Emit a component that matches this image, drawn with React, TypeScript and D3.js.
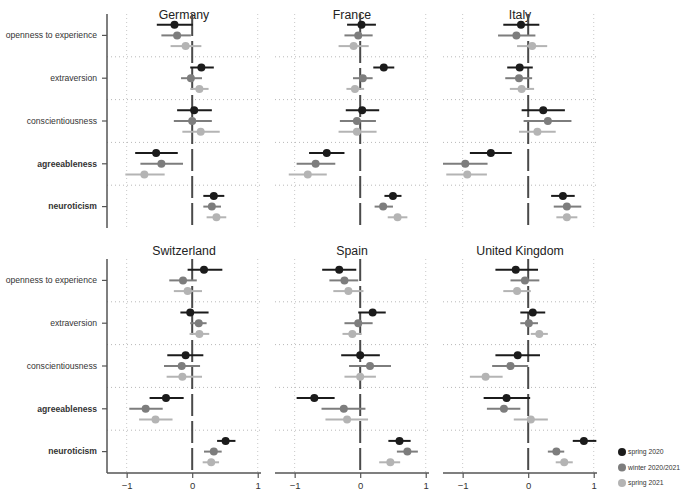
import React, { useEffect, useRef } from 'react';
import * as d3 from 'd3';

const traits = ['openness to experience', 'extraversion', 'conscientiousness', 'agreeableness', 'neuroticism'];
const boldTraits = ['agreeableness', 'neuroticism'];
const waves = ['spring 2020', 'winter 2020/2021', 'spring 2021'];
const waveColors = ['#1b1b1b', '#7d7d7d', '#b4b4b4'];
const countries = ['Germany', 'France', 'Italy', 'Switzerland', 'Spain', 'United Kingdom'];
const xTicks = [-1, 0, 1];

// per trait: [spring 2020, winter 2020/2021, spring 2021], each [estimate, lower, upper]
const germany = [
  [[-0.27, -0.54, 0.01], [-0.23, -0.47, -0.02], [-0.10, -0.33, 0.14]],
  [[0.14, -0.03, 0.33], [-0.02, -0.17, 0.15], [0.11, -0.03, 0.25]],
  [[0.03, -0.23, 0.30], [0.0, -0.28, 0.30], [0.13, -0.15, 0.42]],
  [[-0.55, -0.87, -0.22], [-0.47, -0.79, -0.14], [-0.73, -1.02, -0.42]],
  [[0.33, 0.17, 0.49], [0.30, 0.17, 0.44], [0.37, 0.22, 0.52]],
];
const france = [
  [[0.02, -0.20, 0.24], [-0.03, -0.24, 0.19], [-0.10, -0.33, 0.13]],
  [[0.36, 0.20, 0.52], [0.04, -0.11, 0.19], [-0.08, -0.21, 0.06]],
  [[0.03, -0.22, 0.29], [-0.05, -0.31, 0.24], [-0.05, -0.33, 0.25]],
  [[-0.51, -0.78, -0.24], [-0.68, -0.97, -0.38], [-0.80, -1.09, -0.51]],
  [[0.50, 0.37, 0.63], [0.35, 0.22, 0.50], [0.57, 0.42, 0.72]],
];
const italy = [
  [[-0.11, -0.38, 0.17], [-0.18, -0.46, 0.11], [0.06, -0.17, 0.29]],
  [[-0.13, -0.32, 0.07], [-0.14, -0.35, 0.06], [-0.10, -0.28, 0.09]],
  [[0.23, -0.10, 0.56], [0.30, -0.07, 0.66], [0.14, -0.14, 0.42]],
  [[-0.57, -0.89, -0.25], [-0.96, -1.30, -0.62], [-0.93, -1.25, -0.63]],
  [[0.53, 0.35, 0.71], [0.59, 0.39, 0.81], [0.59, 0.43, 0.75]],
];
const switzerland = [
  [[0.18, -0.07, 0.46], [-0.14, -0.35, 0.07], [-0.07, -0.28, 0.15]],
  [[-0.03, -0.18, 0.25], [0.10, -0.03, 0.22], [0.11, -0.04, 0.26]],
  [[-0.10, -0.38, 0.17], [-0.16, -0.43, 0.12], [-0.15, -0.39, 0.15]],
  [[-0.40, -0.65, -0.13], [-0.71, -0.96, -0.45], [-0.56, -0.81, -0.30]],
  [[0.51, 0.38, 0.66], [0.33, 0.18, 0.45], [0.29, 0.16, 0.41]],
];
const spain = [
  [[-0.32, -0.58, -0.06], [-0.24, -0.47, -0.03], [-0.18, -0.41, 0.05]],
  [[0.19, -0.03, 0.39], [-0.03, -0.24, 0.19], [-0.12, -0.27, 0.02]],
  [[0.0, -0.29, 0.30], [0.15, -0.17, 0.47], [0.0, -0.24, 0.24]],
  [[-0.70, -0.97, -0.39], [-0.25, -0.59, 0.08], [-0.20, -0.53, 0.12]],
  [[0.60, 0.43, 0.77], [0.72, 0.56, 0.88], [0.46, 0.29, 0.61]],
];
const uk = [
  [[-0.19, -0.50, 0.15], [-0.05, -0.27, 0.17], [-0.17, -0.38, 0.04]],
  [[0.07, -0.12, 0.26], [0.01, -0.12, 0.15], [0.17, 0.04, 0.30]],
  [[-0.16, -0.50, 0.18], [-0.27, -0.55, 0.0], [-0.65, -0.89, -0.39]],
  [[-0.33, -0.68, 0.03], [-0.37, -0.63, -0.12], [0.04, -0.22, 0.30]],
  [[0.85, 0.68, 1.04], [0.43, 0.30, 0.55], [0.55, 0.42, 0.68]],
];
const countryData = [germany, france, italy, switzerland, spain, uk];

const FONT = '"Liberation Sans", Arial, sans-serif';

function ForestPlot() {
  const ref = useRef<SVGSVGElement | null>(null);

  useEffect(() => {
    const svg = d3.select(ref.current);
    svg.selectAll('*').remove();

    const panelW = 154;
    const panelLefts = [107, 275, 443];
    const rowTops = [14, 259];
    const panelH = 214;

    const x = d3.scaleLinear().domain([-1.3, 1.05]).range([0, panelW]);
    const y = d3.scaleBand().domain(traits).range([0, panelH]);
    const off = d3.scalePoint().domain(waves).range([-y.bandwidth() * 0.25, y.bandwidth() * 0.25]);

    countries.forEach((name, ci) => {
      const col = ci % 3;
      const row = Math.floor(ci / 3);
      const g = svg.append('g')
        .attr('transform', `translate(${panelLefts[col]},${rowTops[row]})`);

      // title
      g.append('text')
        .attr('x', panelW / 2)
        .attr('y', row === 0 ? 5 : -4)
        .attr('text-anchor', 'middle')
        .attr('font-family', FONT)
        .attr('font-size', 12.3)
        .attr('fill', '#222')
        .text(name);

      // vertical dotted grid at -1 and 1
      g.selectAll('.vgrid')
        .data([-1, 1])
        .enter().append('line')
        .attr('x1', d => x(d)).attr('x2', d => x(d))
        .attr('y1', 0).attr('y2', panelH)
        .attr('stroke', '#c8c8c8')
        .attr('stroke-width', 1)
        .attr('stroke-dasharray', '1,3');

      // horizontal separators between traits
      g.selectAll('.hgrid')
        .data(traits.slice(1))
        .enter().append('line')
        .attr('x1', 0).attr('x2', panelW)
        .attr('y1', d => y(d)!).attr('y2', d => y(d)!)
        .attr('stroke', '#b8b8b8')
        .attr('stroke-width', 1)
        .attr('stroke-dasharray', '1,3');

      // zero reference line
      g.append('line')
        .attr('x1', x(0)).attr('x2', x(0))
        .attr('y1', 0).attr('y2', panelH)
        .attr('stroke', '#4a4a4a')
        .attr('stroke-width', 2)
        .attr('stroke-dasharray', '22,5');

      const data = countryData[ci];
      traits.forEach((t, ti) => {
        waves.forEach((w, wi) => {
          const [est, lo, hi] = data[ti][wi];
          const cy = y(t)! + y.bandwidth() / 2 + off(w)!;
          g.append('line')
            .attr('x1', x(lo)).attr('x2', x(hi))
            .attr('y1', cy).attr('y2', cy)
            .attr('stroke', waveColors[wi])
            .attr('stroke-width', 2);
          g.append('circle')
            .attr('cx', x(est)).attr('cy', cy)
            .attr('r', 4)
            .attr('fill', waveColors[wi]);
        });
      });

      // left axis only in first column
      if (col === 0) {
        const yAxis = g.append('g')
          .call(d3.axisLeft(y).tickSize(5).tickPadding(5));
        yAxis.select('.domain').attr('stroke', '#555').attr('stroke-width', 1.5)
          .attr('d', `M0,0V${panelH}`);
        yAxis.selectAll('.tick line').attr('stroke', '#555').attr('stroke-width', 1.2);
        yAxis.selectAll('.tick text')
          .attr('font-family', FONT)
          .attr('font-size', 8.6)
          .attr('fill', '#333')
          .attr('font-weight', (d: any) => (boldTraits.includes(d) ? 'bold' : 'normal'));
      }

      // bottom axis only on lower row
      if (row === 1) {
        const xAxis = g.append('g')
          .attr('transform', `translate(0,${panelH})`)
          .call(d3.axisBottom(x).tickValues(xTicks).tickFormat(d3.format('d')).tickSize(5).tickPadding(4));
        xAxis.select('.domain').attr('stroke', '#555').attr('stroke-width', 1.5)
          .attr('d', `M0,0H${panelW}`);
        xAxis.selectAll('.tick line').attr('stroke', '#555').attr('stroke-width', 1.2);
        xAxis.selectAll('.tick text')
          .attr('font-family', FONT)
          .attr('font-size', 9.5)
          .attr('fill', '#333');
      }
    });

    // legend
    const legend = svg.append('g').attr('transform', 'translate(622,452)');
    waves.forEach((w, i) => {
      legend.append('circle')
        .attr('cx', 0).attr('cy', i * 15.5)
        .attr('r', 4)
        .attr('fill', waveColors[i]);
      legend.append('text')
        .attr('x', 6).attr('y', i * 15.5)
        .attr('dy', '0.35em')
        .attr('font-family', FONT)
        .attr('font-size', 6.8)
        .attr('fill', '#333')
        .text(w);
    });
  }, []);

  return <svg ref={ref} width={685} height={492} style={{ display: 'block' }} />;
}

export default function App() {
  return (
    <div style={{ position: 'absolute', left: 0, top: 0, background: '#fff' }}>
      <ForestPlot />
    </div>
  );
}
